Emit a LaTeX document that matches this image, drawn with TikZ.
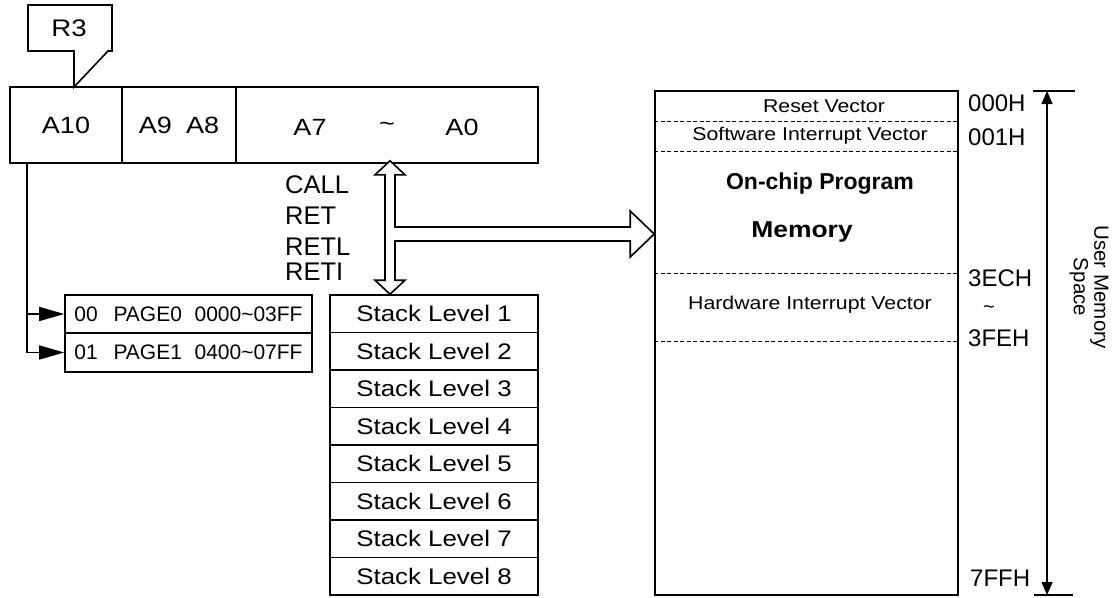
\documentclass[tikz,border=0pt]{standalone}
\usepackage{fontspec}
\setmainfont{Liberation Sans}
\newfontfamily\widefont{Liberation Sans}[FakeStretch=1.15]
\usetikzlibrary{arrows.meta,positioning,calc}

\newcommand{\fsz}[1]{\fontsize{#1}{#1}\selectfont}

\begin{document}
\begin{tikzpicture}[
    x=1pt, y=-1pt,
    regbox/.style={draw, line width=1.6pt, minimum height=76pt, inner sep=0pt, font=\widefont\fsz{23.5}},
    pagebox/.style={draw, line width=1.6pt, minimum width=247pt, minimum height=38.5pt, inner sep=0pt, font=\fsz{21}},
    stackbox/.style={draw, line width=1.6pt, minimum width=208pt, minimum height=37.5pt, inner sep=0pt, font=\widefont\fsz{22.5}},
    membox/.style={draw, line width=1.6pt, minimum width=303pt, minimum height=504pt, inner sep=0pt},
    memtext/.style={font=\widefont\fsz{18.5}, inner sep=0pt},
    addr/.style={anchor=west, font=\fsz{24}, inner sep=0pt},
    instr/.style={anchor=base west, font=\fsz{25.5}, inner sep=0pt},
    divider/.style={dashed, line width=1pt, dash pattern=on 4pt off 2.5pt},
    tap/.style={line width=1.6pt, -{Triangle[length=25pt,width=14pt]}},
    hollow/.style={draw, fill=white, line width=1.6pt, line join=miter}
]
\useasboundingbox (0,0) rectangle (1115,597);

% R3 callout
\node[font=\widefont\fsz{24}, inner sep=0pt] (r3) at (69,28) {R3};
\draw[line width=1.6pt] (74,51) -- (28,51) -- (28,5) -- (112,5) -- (112,51) -- (108,51) -- (74,87) -- cycle;

% Program counter
\node[regbox, minimum width=112pt] (a10) at (66,125) {A10};
\node[regbox, minimum width=114pt] (a98) at (179,125) {A9\hspace{.6em}A8};
\node[regbox, minimum width=302pt] (a70) at (387,125) {};
\node[font=\widefont\fsz{23.5}] (a7) at (310,127) {A7};
\node[font=\widefont\fsz{23.5}] (tl) at (387,127) {\textasciitilde};
\node[font=\widefont\fsz{23.5}] (a0) at (462,127) {A0};

% Page select
\node[pagebox] (page0) at (188.5,314) {00\hspace{.75em}PAGE0\hspace{.6em}0000\textasciitilde 03FF};
\node[pagebox] (page1) at (188.5,352.5) {01\hspace{.75em}PAGE1\hspace{.6em}0400\textasciitilde 07FF};
\coordinate (tap) at ($(a10.south west)+(18,0)$);
\draw[tap] (tap) |- (page0.west);
\draw[tap] (tap) |- (page1.west);

% Stack
\foreach \i in {1,...,8}
    \node[stackbox] (stack\i) at (434,{295+37.5*(\i-0.5)}) {Stack Level \i};

% Instructions
\node[instr] (call) at (285,193) {CALL};
\node[instr] (ret) at (285,224) {RET};
\node[instr] (retl) at (285,255) {RETL};
\node[instr] (reti) at (285,280) {RETI};

% Program memory
\node[membox] (mem) at (806.5,343) {};
\foreach \yy in {121,151,273,341}
    \draw[divider] (mem.west |- 0,\yy) -- (mem.east |- 0,\yy);
\node[memtext] (reset) at (824,106) {Reset Vector};
\node[memtext] (swint) at (810,136) {Software Interrupt Vector};
\node[font=\bfseries\fsz{23}, inner sep=0pt] (onchip) at (820,184) {On-chip Program};
\node[font=\widefont\bfseries\fsz{23}, inner sep=0pt] (memory) at (802,232) {Memory};
\node[memtext] (hwint) at (810,305) {Hardware Interrupt Vector};

% Addresses
\node[addr] (a000) at (968,103) {000H};
\node[addr] (a001) at (968,137) {001H};
\node[addr] (a3ec) at (968,278) {3ECH};
\node[font=\fsz{20}, inner sep=0pt] (atl) at (989,310) {\textasciitilde};
\node[addr] (a3fe) at (968,338) {3FEH};
\node[addr] (a7ff) at (970,578) {7FFH};

% Data path
\coordinate (vtop) at ($(a70.south)+(3,-3)$);
\coordinate (vbot) at ($(a70.south |- stack1.north)+(3,0)$);
\coordinate (hto) at (mem.west |- 0,234);
\draw[hollow] (vtop) -- ++(15,14) -- ++(-10,0) |- ($(hto)+(-24,-7)$) -- ++(0,-16) -- (hto)
    -- ++(-24,23) -- ++(0,-16) -| ($(vbot)+(5,-14)$) -- ++(10,0) -- (vbot) -- ++(-15,-14)
    -- ++(10,0) -- ($(vtop)+(-5,14)$) -- ++(-10,0) -- cycle;

% User memory space
\coordinate (utop) at (1047,91);
\coordinate (ubot) at (1047,595);
\draw[line width=1.6pt] ($(utop)+(-14,0)$) -- ($(utop)+(28,0)$);
\draw[line width=1.6pt] ($(ubot)+(-13,0)$) -- ($(ubot)+(26,0)$);
\draw[line width=1.6pt, {Triangle[length=13pt,width=11pt]}-{Triangle[length=13pt,width=11pt]}] (utop) -- (ubot);
\node[rotate=-90, align=center, font=\fsz{20.5}, inner sep=0pt] (uspace) at (1089,287) {User Memory\\Space};

\end{tikzpicture}
\end{document}
